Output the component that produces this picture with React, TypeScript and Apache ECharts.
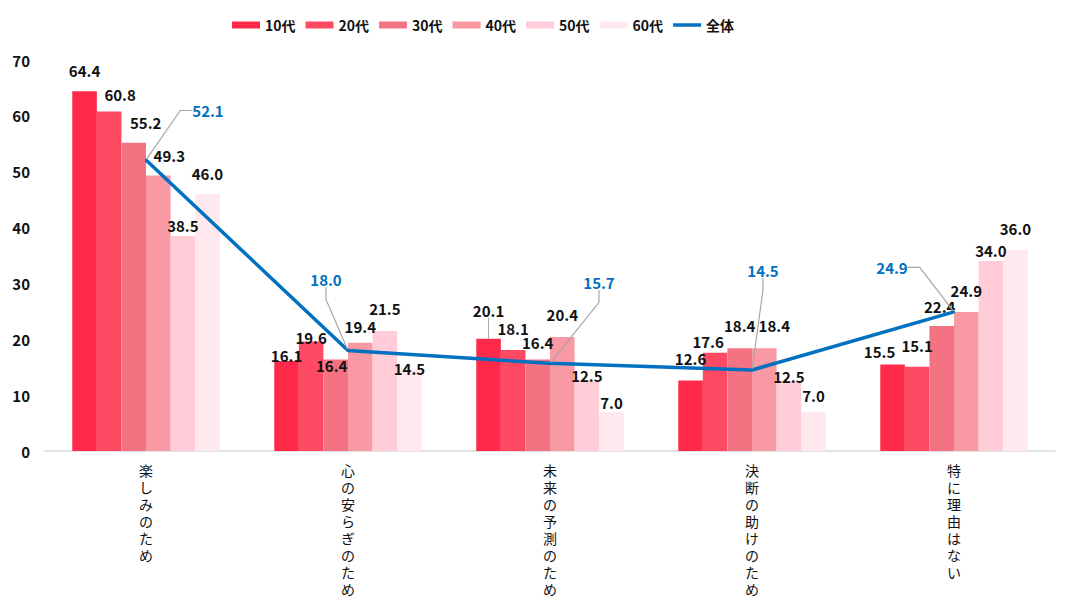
import React, { useEffect, useRef } from "react";
import * as echarts from "echarts";

const categories = ["楽しみのため", "心の安らぎのため", "未来の予測のため", "決断の助けのため", "特に理由はない"];
const seriesNames = ["10代", "20代", "30代", "40代", "50代", "60代"];
const s10 = [64.4, 16.1, 20.1, 12.6, 15.5];
const s20 = [60.8, 19.6, 18.1, 17.6, 15.1];
const s30 = [55.2, 16.4, 16.4, 18.4, 22.4];
const s40 = [49.3, 19.4, 20.4, 18.4, 24.9];
const s50 = [38.5, 21.5, 12.5, 12.5, 34.0];
const s60 = [46.0, 14.5, 7.0, 7.0, 36.0];
const overall = [52.1, 18.0, 15.7, 14.5, 24.9];
const overallName = "全体";

const barValues = [s10, s20, s30, s40, s50, s60];
const barColors = ["#FF2A4A", "#FF4A63", "#F37382", "#F899A3", "#FFCCD7", "#FFE9EF"];
const lineColor = "#0070C0";

// label nudges (style only)
const barLabelShift = [
  [[0, -8], [0, 7], [0, -16], [0, -10], [-13, 0]],
  [[11, -4], [0, 8], [0, -9], [-7, 1], [0, -9]],
  [[12, -8], [-4, 19], [0, -4], [0, -10], [-2, -7]],
  [[11, -8], [0, -4], [0, -10], [10, -10], [0, -9]],
  [[0, 2], [0, -10], [0, 7], [0, 8], [0, 2]],
  [[0, -8], [0, 11], [0, 3], [0, -4], [0, -9]],
];
const lineLabelShift = [[62, -36], [-22, -57], [49, -67], [11, -86], [-62, -31]];

const FONT = "'Noto Sans CJK JP', 'Noto Sans', sans-serif";

export default function App() {
  const ref = useRef<HTMLDivElement>(null);
  useEffect(() => {
    if (!ref.current) return;
    const chart = echarts.init(ref.current, undefined, { renderer: "svg" });
    const barSeries = barValues.map((vals, si) => ({
      name: seriesNames[si],
      type: "bar",
      barGap: "0%",
      barCategoryGap: "27%",
      itemStyle: { color: barColors[si] },
      data: vals.map((v, di) => ({
        value: v,
        labelLine: { show: si === 0 && di === 2, lineStyle: { color: "#a6a6a6", width: 1 } },
      })),
      label: {
        show: true,
        position: "top",
        distance: 5,
        color: "#111",
        fontSize: 15,
        fontWeight: "bold",
        fontFamily: FONT,
        formatter: (p: any) => Number(p.value).toFixed(1),
      },
      labelLayout: (p: any) => ({ dx: barLabelShift[si][p.dataIndex][0], dy: barLabelShift[si][p.dataIndex][1] }),
    }));
    const option: any = {
      animation: false,
      textStyle: { fontFamily: FONT },
      legend: {
        left: 227,
        top: 13,
        itemWidth: 28,
        itemHeight: 7,
        itemGap: 10,
        textStyle: { fontSize: 14, fontWeight: "bold", color: "#111", fontFamily: FONT },
        data: [
          ...seriesNames.map((n) => ({ name: n, icon: "rect" })),
          { name: overallName, icon: "path://M0,0 H32 V4 H0 Z" },
        ],
      },
      grid: { left: 45, right: 21, top: 60, bottom: 152 },
      xAxis: {
        type: "category",
        data: categories,
        axisTick: { show: false },
        axisLine: { lineStyle: { color: "#d9d9d9", width: 1.5 } },
        axisLabel: {
          interval: 0,
          margin: 10,
          color: "#111",
          fontSize: 14,
          lineHeight: 17,
          fontFamily: FONT,
          formatter: (v: string) => v.split("").join("\n"),
        },
      },
      yAxis: {
        type: "value",
        min: 0,
        max: 70,
        interval: 10,
        splitLine: { show: false },
        axisLine: { show: false },
        axisTick: { show: false },
        axisLabel: { margin: 15, color: "#111", fontSize: 15, fontWeight: "bold", fontFamily: FONT },
      },
      series: [
        ...barSeries,
        {
          name: overallName,
          type: "line",
          data: overall,
          z: 5,
          symbol: "circle",
          symbolSize: 2,
          showSymbol: true,
          itemStyle: { color: lineColor },
          lineStyle: { color: lineColor, width: 3.5 },
          label: {
            show: true,
            position: "top",
            distance: 5,
            color: lineColor,
            fontSize: 15,
            fontWeight: "bold",
            fontFamily: FONT,
            formatter: (p: any) => Number(p.value).toFixed(1),
          },
          labelLine: { show: true, length2: 12, lineStyle: { color: "#a6a6a6", width: 1.2 } },
          labelLayout: (p: any) => ({ dx: lineLabelShift[p.dataIndex][0], dy: lineLabelShift[p.dataIndex][1] }),
        },
      ],
    };
    chart.setOption(option);
    return () => chart.dispose();
  }, []);
  return <div ref={ref} style={{ position: "fixed", left: 0, top: 0, width: 1076, height: 603, background: "#fff" }} />;
}
